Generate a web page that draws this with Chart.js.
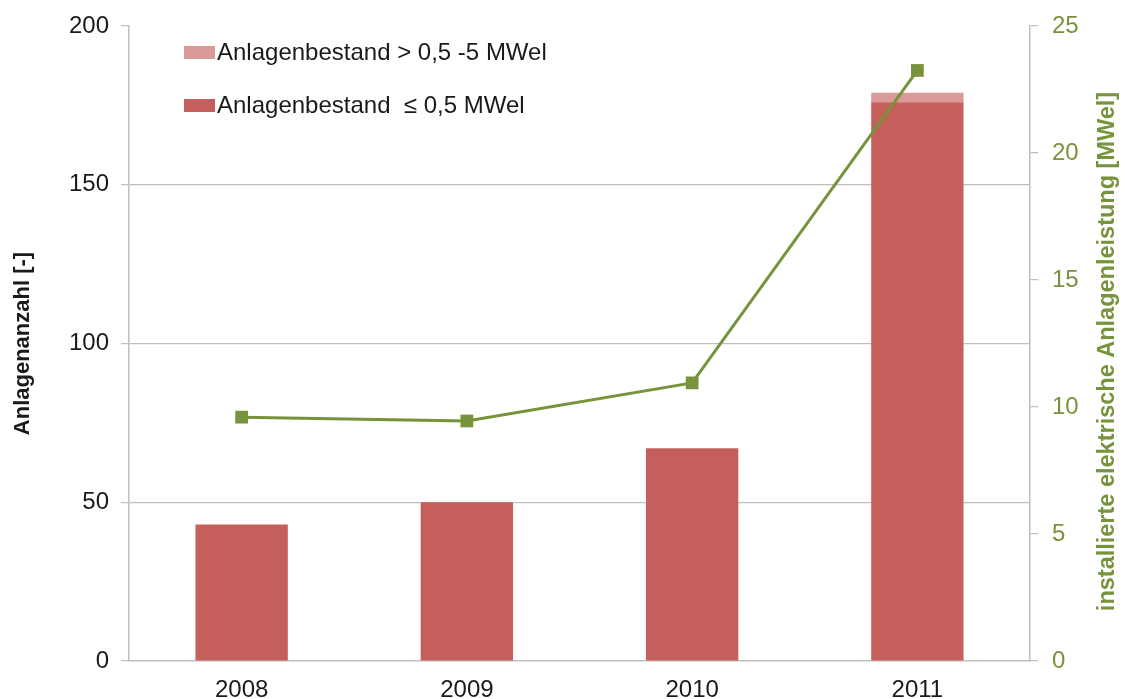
<!DOCTYPE html>
<html>
<head>
<meta charset="utf-8">
<script src="https://cdn.jsdelivr.net/npm/chart.js@4.4.1/dist/chart.umd.min.js"></script>
<style>
html,body{margin:0;padding:0;background:#fff;}
#wrap{width:1125px;height:699px;}
</style>
</head>
<body>
<div id="wrap"><canvas id="c" width="1125" height="699"></canvas></div>
<script>
const categories = ['2008', '2009', '2010', '2011'];
const smallPlants = [43, 50, 67, 176];
const largePlants = [0, 0, 0, 3];
const capacityMW = [9.6, 9.45, 10.95, 23.25];
const leftTicks = [0, 50, 100, 150, 200];
const rightTicks = [0, 5, 10, 15, 20, 25];

const labelSmall = 'Anlagenbestand  \u2264 0,5 MWel';
const labelLarge = 'Anlagenbestand > 0,5 -5 MWel';
const rightTitle = 'installierte elektrische Anlagenleistung [MWel]';

const DARK = '#c55f5b';
const LIGHT = '#da9a98';
const GREEN = '#77933c';
const GRID = '#bfbfbf';
const FONT = "'Liberation Sans', Arial, sans-serif";

const legendPlugin = {
  id: 'insideLegend',
  afterDatasetsDraw(chart) {
    const ctx = chart.ctx;
    const items = [
      {text: labelLarge, color: LIGHT, y: 52},
      {text: labelSmall, color: DARK, y: 105}
    ];
    ctx.save();
    ctx.font = '24px ' + FONT;
    ctx.textBaseline = 'middle';
    ctx.textAlign = 'left';
    items.forEach(it => {
      ctx.fillStyle = it.color;
      ctx.fillRect(184, it.y - 6, 31, 13);
      ctx.fillStyle = '#1a1a1a';
      ctx.fillText(it.text, 217, it.y + 1);
    });
    // right axis title, reading bottom-to-top
    const y1 = chart.scales.y1;
    ctx.save();
    ctx.translate(1108, (y1.top + y1.bottom) / 2 + 8);
    ctx.rotate(-Math.PI / 2);
    ctx.font = 'bold 23.5px ' + FONT;
    ctx.fillStyle = GREEN;
    ctx.textAlign = 'center';
    ctx.textBaseline = 'middle';
    ctx.fillText(rightTitle, 0, 0);
    ctx.restore();
    ctx.restore();
  }
};

new Chart(document.getElementById('c'), {
  type: 'bar',
  data: {
    labels: categories,
    datasets: [
      {
        type: 'line',
        label: 'installierte elektrische Anlagenleistung',
        data: capacityMW,
        yAxisID: 'y1',
        borderColor: GREEN,
        backgroundColor: GREEN,
        borderWidth: 3,
        pointStyle: 'rect',
        pointRadius: 9,
        pointHoverRadius: 9,
        pointBorderWidth: 0,
        tension: 0,
        order: 0
      },
      {
        label: labelSmall,
        data: smallPlants,
        backgroundColor: DARK,
        yAxisID: 'y',
        stack: 's',
        barPercentage: 0.41,
        categoryPercentage: 1,
        order: 1
      },
      {
        label: labelLarge,
        data: largePlants,
        backgroundColor: LIGHT,
        yAxisID: 'y',
        stack: 's',
        barPercentage: 0.41,
        categoryPercentage: 1,
        order: 1
      }
    ]
  },
  options: {
    responsive: false,
    animation: false,
    devicePixelRatio: 1,
    layout: {padding: {top: 26, right: 0, left: 0, bottom: 0}},
    plugins: {
      legend: {display: false},
      tooltip: {enabled: false}
    },
    scales: {
      x: {
        stacked: true,
        grid: {display: false},
        border: {display: true, color: GRID, width: 1.5},
        ticks: {color: '#1a1a1a', font: {family: FONT, size: 24}, padding: 7},
        afterFit(s) { s.height = 38; s.paddingLeft = 0; s.paddingRight = 0; }
      },
      y: {
        stacked: true,
        position: 'left',
        min: 0, max: 200,
        afterBuildTicks(s) { s.ticks = leftTicks.map(v => ({value: v})); },
        ticks: {color: '#1a1a1a', font: {family: FONT, size: 24}, padding: 12},
        grid: {
          color: c => (c.tick && (c.tick.value === 0 || c.tick.value === 200)) ? 'rgba(0,0,0,0)' : GRID,
          tickColor: GRID,
          tickLength: 8,
          lineWidth: 1.2
        },
        border: {display: true, color: GRID, width: 1.5},
        title: {display: true, text: 'Anlagenanzahl [-]', color: '#1a1a1a', font: {family: FONT, size: 22, weight: 'bold'}, padding: {top: 10, bottom: 0}},
        afterFit(s) { s.width = 129; s.paddingTop = 0; s.paddingBottom = 0; }
      },
      y1: {
        position: 'right',
        min: 0, max: 25,
        afterBuildTicks(s) { s.ticks = rightTicks.map(v => ({value: v})); },
        ticks: {color: GREEN, font: {family: FONT, size: 24}, padding: 14},
        grid: {drawOnChartArea: false, tickColor: GRID, tickLength: 8, lineWidth: 1.2},
        border: {display: true, color: GRID, width: 1.5},
        title: {display: false},
        afterFit(s) { s.width = 95; s.paddingTop = 0; s.paddingBottom = 0; }
      }
    }
  },
  plugins: [legendPlugin]
});
</script>
</body>
</html>
